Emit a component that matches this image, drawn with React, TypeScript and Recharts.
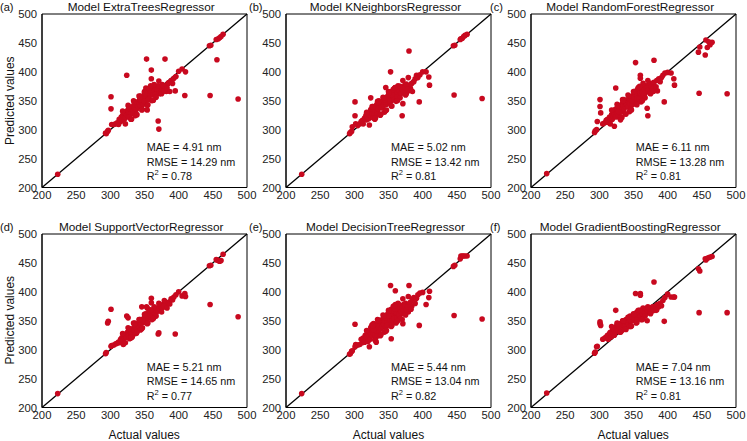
import React from 'react';
import { ScatterChart, Scatter, XAxis, YAxis, ReferenceLine, ReferenceArea } from 'recharts';

const FONT = '"Liberation Sans", Arial, sans-serif';
const RED = '#C8091F';

const ticks = [200, 250, 300, 350, 400, 450, 500];
const panelTitles = [
  'Model ExtraTreesRegressor',
  'Model KNeighborsRegressor',
  'Model RandomForestRegressor',
  'Model SupportVectorRegressor',
  'Model DecisionTreeRegressor',
  'Model GradientBoostingRegressor',
];
const panelLetters = ['(a)', '(b)', '(c)', '(d)', '(e)', '(f)'];
const maeValues = ['4.91', '5.02', '6.11', '5.21', '5.44', '7.04'];
const rmseValues = ['14.29', '13.42', '13.28', '14.65', '13.04', '13.16'];
const r2Values = ['0.78', '0.81', '0.81', '0.77', '0.82', '0.81'];

// Actual values (shared test set)
const actualValues = [
  223, 293, 294, 296, 297, 301, 301, 302, 305, 308,
  324, 353, 354, 360, 360, 370, 371, 380, 395, 405,
  409, 410, 445, 446, 447, 456, 458, 462, 465, 487,
  455, 460,
  310, 312, 313, 315, 316, 317, 318, 319, 320, 321,
  322, 323, 324, 325, 326, 326, 327, 328, 329, 330,
  330, 331, 332, 333, 334, 335, 336, 337, 338, 339,
  340, 341, 342, 343, 344, 345, 346, 347, 348, 349,
  350, 351, 352, 353, 354, 355, 356, 357, 358, 358,
  359, 360, 361, 362, 363, 364, 365, 366, 367, 368,
  369, 370, 372, 373, 374, 375, 376, 377, 378, 379,
  380, 382, 384, 385, 387, 389, 391, 393, 396, 400,
  345, 348, 350, 352, 355, 356, 358, 360, 362, 363,
  365, 366, 368, 370, 372, 374, 376, 378, 328, 333,
  318, 322, 326, 330, 334, 338, 342, 346, 350, 354,
  357, 361, 364, 367, 371, 375, 379, 383, 336, 344,
  327, 331, 335, 339, 343, 347, 351, 355, 359, 363,
];

const predExtraTrees = [
  223, 294, 293, 297, 299, 357, 336, 309, 309, 310,
  394, 422, 334, 403, 388, 315, 301, 422, 367, 405,
  359, 400, 445, 359, 446, 421, 457, 461, 465, 353,
  456, 459,
  312, 309, 318, 314, 322, 316, 325, 321, 318, 329,
  320, 331, 326, 333, 324, 330, 329, 336, 327, 334,
  338, 329, 335, 340, 332, 344, 337, 341, 335, 343,
  348, 340, 345, 352, 341, 350, 347, 355, 344, 351,
  366, 348, 372, 355, 362, 358, 365, 353, 367, 360,
  370, 373, 362, 368, 374, 365, 371, 363, 369, 375,
  364, 370, 366, 373, 368, 371, 365, 376, 369, 372,
  374, 366, 379, 381, 366, 385, 380, 389, 392, 401,
  352, 357, 349, 362, 368, 352, 363, 366, 360, 371,
  373, 361, 371, 376, 362, 365, 378, 375, 322, 328,
  332, 310, 342, 318, 350, 326, 358, 334, 364, 342,
  372, 350, 378, 356, 384, 362, 367, 372, 324, 358,
  340, 318, 348, 326, 356, 335, 363, 343, 376, 351,
];

const predKNeighbors = [
  223, 293, 295, 297, 305, 348, 324, 310, 307, 310,
  355, 400, 350, 373, 368, 324, 345, 436, 348, 400,
  391, 377, 445, 360, 446, 457, 458, 463, 465, 354,
  456, 461,
  314, 316, 310, 320, 318, 325, 317, 322, 327, 319,
  330, 325, 335, 322, 333, 328, 340, 331, 326, 337,
  332, 341, 338, 344, 330, 336, 347, 340, 345, 338,
  345, 338, 350, 342, 353, 347, 373, 344, 352, 348,
  355, 362, 347, 358, 365, 352, 360, 368, 356, 363,
  364, 358, 370, 366, 360, 372, 367, 362, 375, 369,
  372, 365, 374, 368, 377, 370, 362, 375, 371, 367,
  376, 372, 380, 366, 383, 388, 394, 390, 395, 400,
  352, 357, 360, 350, 366, 359, 352, 373, 365, 357,
  368, 374, 362, 371, 366, 373, 379, 370, 320, 326,
  330, 308, 340, 318, 349, 325, 356, 333, 366, 341,
  370, 349, 376, 355, 385, 360, 390, 368, 350, 330,
  339, 320, 347, 327, 355, 334, 364, 341, 372, 350,
];

const predRandomForest = [
  224, 295, 298, 300, 314, 352, 340, 329, 310, 312,
  372, 416, 345, 394, 389, 337, 324, 420, 348, 398,
  388, 377, 434, 363, 443, 455, 442, 447, 451, 362,
  429, 452,
  316, 318, 313, 322, 310, 320, 326, 318, 324, 330,
  327, 335, 322, 331, 338, 329, 333, 325, 340, 332,
  336, 342, 330, 339, 346, 341, 335, 348, 340, 344,
  344, 351, 339, 348, 353, 345, 357, 350, 343, 355,
  360, 353, 366, 358, 350, 363, 370, 356, 364, 359,
  368, 362, 372, 357, 370, 366, 374, 361, 369, 376,
  374, 368, 377, 365, 372, 380, 369, 375, 366, 378,
  382, 371, 385, 367, 388, 383, 390, 394, 398, 399,
  355, 350, 357, 362, 354, 368, 353, 364, 371, 365,
  361, 370, 373, 372, 369, 363, 374, 371, 331, 321,
  334, 306, 344, 320, 352, 327, 360, 336, 366, 344,
  373, 348, 380, 355, 385, 362, 366, 374, 352, 331,
  342, 317, 350, 327, 358, 334, 366, 343, 375, 350,
];

const predSupportVector = [
  224, 293, 295, 346, 349, 370, 306, 307, 308, 310,
  358, 374, 372, 389, 381, 327, 329, 380, 327, 393,
  397, 392, 445, 378, 446, 455, 454, 454, 465, 357,
  456, 453,
  311, 313, 312, 318, 316, 321, 317, 309, 322, 320,
  324, 322, 328, 330, 326, 355, 329, 332, 331, 336,
  330, 332, 322, 335, 336, 334, 340, 338, 339, 337,
  342, 343, 340, 346, 345, 352, 374, 348, 350, 347,
  350, 354, 352, 358, 355, 362, 356, 365, 357, 360,
  362, 358, 363, 366, 360, 368, 364, 361, 370, 366,
  371, 368, 372, 369, 374, 376, 373, 378, 375, 380,
  378, 377, 380, 382, 379, 388, 386, 391, 395, 400,
  346, 350, 356, 362, 354, 359, 367, 355, 360, 365,
  363, 369, 372, 367, 371, 375, 372, 376, 319, 325,
  328, 312, 338, 320, 346, 328, 352, 336, 361, 345,
  368, 352, 374, 358, 380, 365, 385, 372, 346, 334,
  336, 322, 344, 330, 352, 338, 360, 346, 369, 354,
];

const predDecisionTree = [
  224, 292, 293, 297, 298, 344, 305, 309, 308, 309,
  338, 411, 319, 402, 378, 352, 345, 411, 342, 378,
  390, 401, 444, 359, 446, 462, 462, 462, 462, 353,
  457, 462,
  318, 312, 320, 313, 325, 316, 322, 330, 314, 326,
  331, 318, 327, 340, 324, 335, 329, 345, 332, 326,
  338, 333, 313, 342, 337, 348, 330, 341, 351, 336,
  346, 340, 352, 344, 358, 349, 338, 355, 347, 362,
  358, 345, 365, 352, 370, 356, 362, 348, 373, 360,
  366, 372, 355, 369, 375, 362, 378, 358, 370, 365,
  375, 362, 378, 370, 366, 380, 372, 368, 377, 365,
  378, 382, 375, 387, 390, 380, 389, 395, 398, 399,
  355, 342, 358, 363, 350, 367, 354, 370, 362, 355,
  360, 374, 366, 372, 368, 376, 369, 374, 335, 323,
  333, 305, 343, 317, 352, 324, 360, 332, 368, 340,
  375, 346, 380, 354, 388, 360, 392, 370, 350, 330,
  342, 316, 350, 326, 358, 333, 367, 342, 376, 349,
];

const predGradientBoosting = [
  225, 294, 296, 305, 306, 348, 345, 342, 318, 320,
  368, 397, 352, 397, 394, 350, 364, 417, 349, 391,
  391, 391, 440, 364, 436, 455, 458, 460, 461, 364,
  457, 459,
  322, 325, 318, 328, 330, 322, 326, 332, 329, 335,
  333, 338, 330, 340, 336, 344, 335, 342, 339, 337,
  340, 345, 342, 338, 348, 343, 350, 346, 341, 352,
  348, 352, 346, 355, 350, 358, 353, 349, 356, 351,
  356, 360, 354, 362, 358, 365, 357, 363, 360, 366,
  360, 366, 363, 368, 364, 370, 367, 362, 369, 371,
  366, 364, 369, 372, 365, 370, 368, 373, 367, 371,
  372, 375, 369, 378, 374, 380, 376, 385, 390, 396,
  352, 357, 355, 360, 353, 361, 364, 358, 365, 362,
  370, 365, 371, 369, 372, 366, 370, 374, 343, 333,
  340, 325, 346, 330, 350, 336, 356, 340, 362, 346,
  368, 352, 372, 358, 374, 362, 370, 368, 350, 340,
  345, 330, 350, 335, 356, 341, 361, 347, 368, 352,
];

const predictedSets = [
  predExtraTrees,
  predKNeighbors,
  predRandomForest,
  predSupportVector,
  predDecisionTree,
  predGradientBoosting,
];

const PLOT_LEFTS = [41.7, 286, 530.7];
const PLOT_TOPS = [14, 233.5];
const PLOT_W = 205;
const PLOT_H = 173.5;
const Y_AXIS_W = 42;
const M_TOP = 14;
const M_RIGHT = 12;
const X_AXIS_H = 22;

const Dot = (props: any) => {
  const { cx, cy } = props;
  if (cx == null || cy == null) return null;
  return <circle cx={cx} cy={cy} r={2.8} fill={RED} />;
};

function Panel({ idx }: { idx: number }) {
  const col = idx % 3;
  const row = Math.floor(idx / 3);
  const preds = predictedSets[idx];
  const data = actualValues.map((x, i) => ({ x, y: preds[i] }));
  const left = PLOT_LEFTS[col] - Y_AXIS_W;
  const top = PLOT_TOPS[row] - M_TOP;
  const tickStyle = { fontSize: 11.3, fill: '#222', fontFamily: FONT };
  return (
    <div style={{ position: 'absolute', left, top }}>
      <ScatterChart
        width={Y_AXIS_W + PLOT_W + M_RIGHT}
        height={M_TOP + PLOT_H + X_AXIS_H}
        margin={{ top: M_TOP, right: M_RIGHT, bottom: 0, left: 0 }}
      >
        <XAxis
          type="number"
          dataKey="x"
          domain={[200, 500]}
          ticks={ticks}
          interval={0}
          allowDataOverflow
          height={X_AXIS_H}
          tickLine={false}
          tickSize={3}
          tickMargin={0}
          axisLine={{ stroke: '#000' }}
          tick={tickStyle}
        />
        <YAxis
          type="number"
          dataKey="y"
          domain={[200, 500]}
          ticks={ticks}
          interval={0}
          allowDataOverflow
          width={Y_AXIS_W}
          tickLine={false}
          tickSize={3}
          tickMargin={2}
          axisLine={{ stroke: '#000' }}
          tick={tickStyle}
        />
        <Scatter data={data} shape={Dot} isAnimationActive={false} />
        <ReferenceLine
          segment={[{ x: 200, y: 200 }, { x: 500, y: 500 }]}
          stroke="#000"
          strokeWidth={1.3}
        />
        <ReferenceArea x1={200} x2={500} y1={200} y2={500} fill="none" fillOpacity={0} stroke="#000" strokeWidth={1} />
      </ScatterChart>
    </div>
  );
}

function Overlay() {
  const items: React.ReactNode[] = [];
  const letterX = [0, 249, 490];
  for (let idx = 0; idx < 6; idx++) {
    const col = idx % 3;
    const row = Math.floor(idx / 3);
    const pl = PLOT_LEFTS[col];
    const pt = PLOT_TOPS[row];
    items.push(
      <text key={'t' + idx} x={pl + PLOT_W / 2 - 3} y={pt - 7} textAnchor="middle" dominantBaseline="central" fontSize={11.8} fill="#111">
        {panelTitles[idx]}
      </text>
    );
    items.push(
      <text key={'l' + idx} x={letterX[col]} y={pt - 7} textAnchor="start" dominantBaseline="central" fontSize={11} fill="#111">
        {panelLetters[idx]}
      </text>
    );
    const ax = pl + 105;
    items.push(
      <text key={'m' + idx} x={ax} y={pt + 133} dominantBaseline="central" fontSize={10.8} fill="#111">
        {'MAE = ' + maeValues[idx] + ' nm'}
      </text>
    );
    items.push(
      <text key={'r' + idx} x={ax} y={pt + 147.5} dominantBaseline="central" fontSize={10.8} fill="#111">
        {'RMSE = ' + rmseValues[idx] + ' nm'}
      </text>
    );
    items.push(
      <text key={'q' + idx} x={ax} y={pt + 162} dominantBaseline="central" fontSize={10.8} fill="#111">
        <tspan>R</tspan>
        <tspan dy={-4} fontSize={7.5}>2</tspan>
        <tspan dy={4}>{' = ' + r2Values[idx]}</tspan>
      </text>
    );
    if (col === 0) {
      const cy = pt + PLOT_H / 2;
      items.push(
        <text key={'y' + idx} x={10} y={cy} transform={`rotate(-90 10 ${cy})`} textAnchor="middle" dominantBaseline="central" fontSize={12} fill="#111">
          Predicted values
        </text>
      );
    }
    if (row === 1) {
      items.push(
        <text key={'x' + idx} x={pl + PLOT_W / 2} y={434.5} textAnchor="middle" dominantBaseline="central" fontSize={12} fill="#111">
          Actual values
        </text>
      );
    }
  }
  return (
    <svg width={747} height={441} style={{ position: 'absolute', left: 0, top: 0, pointerEvents: 'none' }} fontFamily={FONT}>
      {items}
    </svg>
  );
}

export default function App() {
  return (
    <div style={{ position: 'absolute', left: 0, top: 0, width: 747, height: 441, background: '#fff', fontFamily: FONT, overflow: 'hidden' }}>
      {[0, 1, 2, 3, 4, 5].map((i) => (
        <Panel key={i} idx={i} />
      ))}
      <Overlay />
    </div>
  );
}
